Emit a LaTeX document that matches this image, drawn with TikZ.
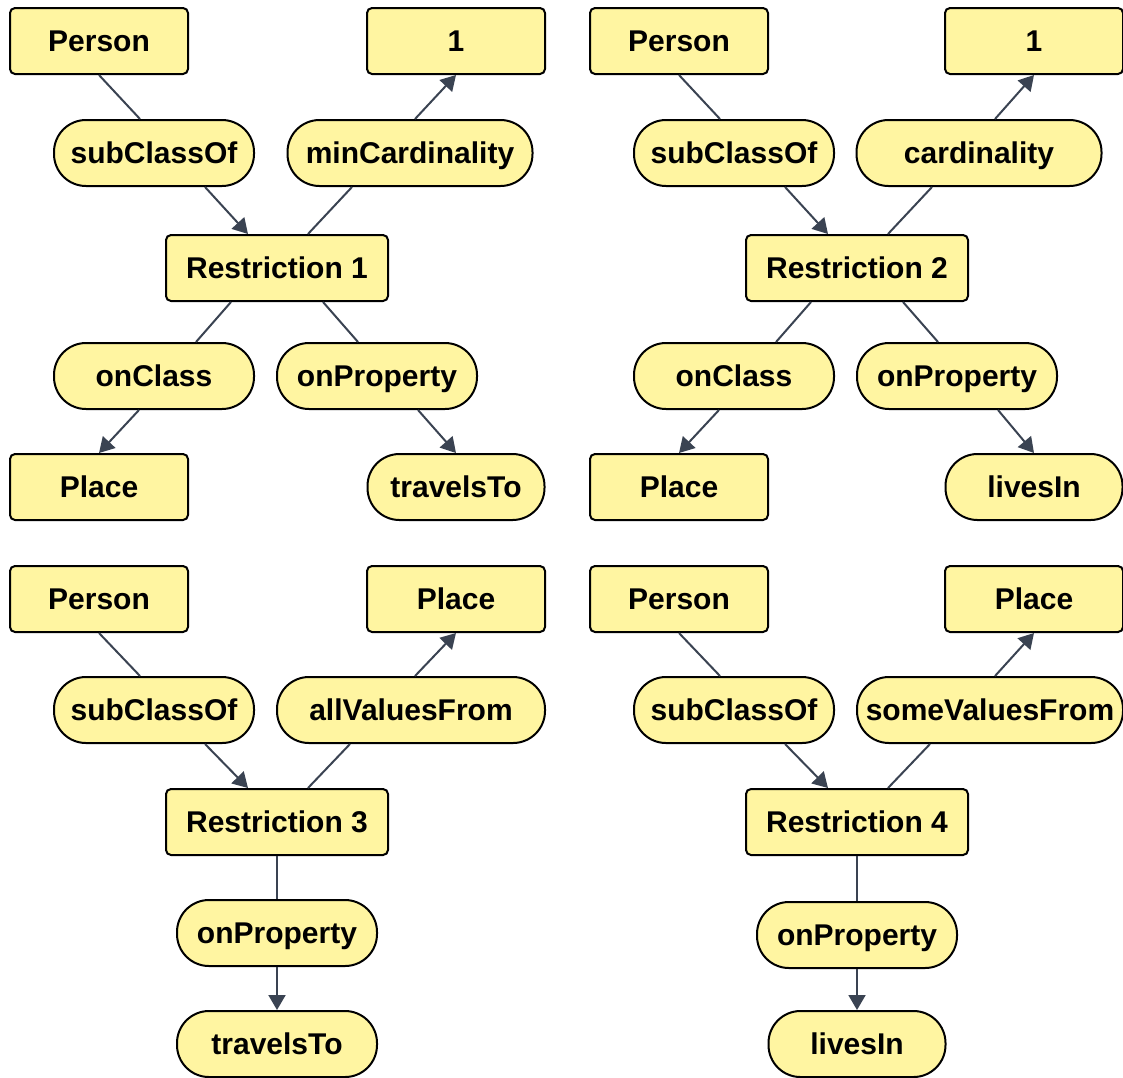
\documentclass[tikz,border=0pt]{standalone}
\usepackage{fontspec}
\setmainfont{Liberation Sans}
\usetikzlibrary{arrows.meta}
\definecolor{nodefill}{HTML}{FFF5A1}
\definecolor{edgecol}{HTML}{3A4352}

\begin{document}
\begin{tikzpicture}[x=1pt, y=-1pt,
  box/.style={rectangle, draw, line width=2pt, fill=nodefill, rounded corners=5pt, minimum width=178pt, minimum height=66pt, text height=27pt, text depth=6pt, font=\fontsize{30}{35}\selectfont\bfseries},
  pill/.style={box, rounded corners=32pt, minimum width=177pt},
  link/.style={draw=edgecol, line width=2pt},
  arr/.style={link, -{Triangle[width=17pt,length=15pt]}}]
\useasboundingbox (0,0) rectangle (1123,1077);

% Restriction 1
\node[box] (per1) at (99,41) {Person};
\node[box] (one1) at (456,41) {1};
\node[pill, minimum width=200pt] (sub1) at (154,153) {subClassOf};
\node[pill, minimum width=245pt] (minc1) at (410,153) {minCardinality};
\node[box, minimum width=222pt] (res1) at (277,268) {Restriction 1};
\node[pill, minimum width=200pt] (cls1) at (154,376) {onClass};
\node[pill, minimum width=200pt] (prop1) at (377,376) {onProperty};
\node[box] (pla1) at (99,487) {Place};
\node[pill] (trav1) at (456,487) {travelsTo};

\draw[link] (per1.south) -- ([xshift=-14pt]sub1.north);
\draw[arr] ([xshift=51pt]sub1.south) -- ([xshift=-29pt]res1.north);
\draw[link] ([xshift=31pt]res1.north) -- ([xshift=-58pt]minc1.south);
\draw[arr] ([xshift=5pt]minc1.north) -- (one1.south);
\draw[link] ([xshift=-46pt]res1.south) -- ([xshift=42pt]cls1.north);
\draw[arr] ([xshift=-15pt]cls1.south) -- (pla1.north);
\draw[link] ([xshift=46pt]res1.south) -- ([xshift=-19pt]prop1.north);
\draw[arr] ([xshift=41pt]prop1.south) -- (trav1.north);

% Restriction 2
\node[box] (per2) at (679,41) {Person};
\node[box] (one2) at (1034,41) {1};
\node[pill, minimum width=200pt] (sub2) at (734,153) {subClassOf};
\node[pill, minimum width=245pt] (card2) at (979,153) {cardinality};
\node[box, minimum width=222pt] (res2) at (857,268) {Restriction 2};
\node[pill, minimum width=200pt] (cls2) at (734,376) {onClass};
\node[pill, minimum width=200pt] (prop2) at (957,376) {onProperty};
\node[box] (pla2) at (679,487) {Place};
\node[pill] (live2) at (1034,487) {livesIn};

\draw[link] (per2.south) -- ([xshift=-14pt]sub2.north);
\draw[arr] ([xshift=51pt]sub2.south) -- ([xshift=-29pt]res2.north);
\draw[link] ([xshift=31pt]res2.north) -- ([xshift=-47pt]card2.south);
\draw[arr] ([xshift=16pt]card2.north) -- (one2.south);
\draw[link] ([xshift=-46pt]res2.south) -- ([xshift=42pt]cls2.north);
\draw[arr] ([xshift=-15pt]cls2.south) -- (pla2.north);
\draw[link] ([xshift=46pt]res2.south) -- ([xshift=-19pt]prop2.north);
\draw[arr] ([xshift=41pt]prop2.south) -- (live2.north);

% Restriction 3
\node[box] (per3) at (99,599) {Person};
\node[box] (pla3) at (456,599) {Place};
\node[pill, minimum width=200pt] (sub3) at (154,710) {subClassOf};
\node[pill, minimum width=268pt] (allv3) at (411,710) {allValuesFrom};
\node[box, minimum width=222pt] (res3) at (277,822) {Restriction 3};
\node[pill, minimum width=200pt] (prop3) at (277,933) {onProperty};
\node[pill, minimum width=200pt] (trav3) at (277,1044) {travelsTo};

\draw[link] (per3.south) -- ([xshift=-14pt]sub3.north);
\draw[arr] ([xshift=51pt]sub3.south) -- ([xshift=-29pt]res3.north);
\draw[link] ([xshift=31pt]res3.north) -- ([xshift=-61pt]allv3.south);
\draw[arr] ([xshift=4pt]allv3.north) -- (pla3.south);
\draw[link] (res3.south) -- (prop3.north);
\draw[arr] (prop3.south) -- (trav3.north);

% Restriction 4
\node[box] (per4) at (679,599) {Person};
\node[box] (pla4) at (1034,599) {Place};
\node[pill, minimum width=200pt] (sub4) at (734,710) {subClassOf};
\node[pill, minimum width=266pt] (some4) at (990,710) {someValuesFrom};
\node[box, minimum width=222pt] (res4) at (857,822) {Restriction 4};
\node[pill, minimum width=200pt] (prop4) at (857,935) {onProperty};
\node[pill] (live4) at (857,1044) {livesIn};

\draw[link] (per4.south) -- ([xshift=-14pt]sub4.north);
\draw[arr] ([xshift=51pt]sub4.south) -- ([xshift=-29pt]res4.north);
\draw[link] ([xshift=31pt]res4.north) -- ([xshift=-60pt]some4.south);
\draw[arr] ([xshift=5pt]some4.north) -- (pla4.south);
\draw[link] (res4.south) -- (prop4.north);
\draw[arr] (prop4.south) -- (live4.north);
\end{tikzpicture}
\end{document}
